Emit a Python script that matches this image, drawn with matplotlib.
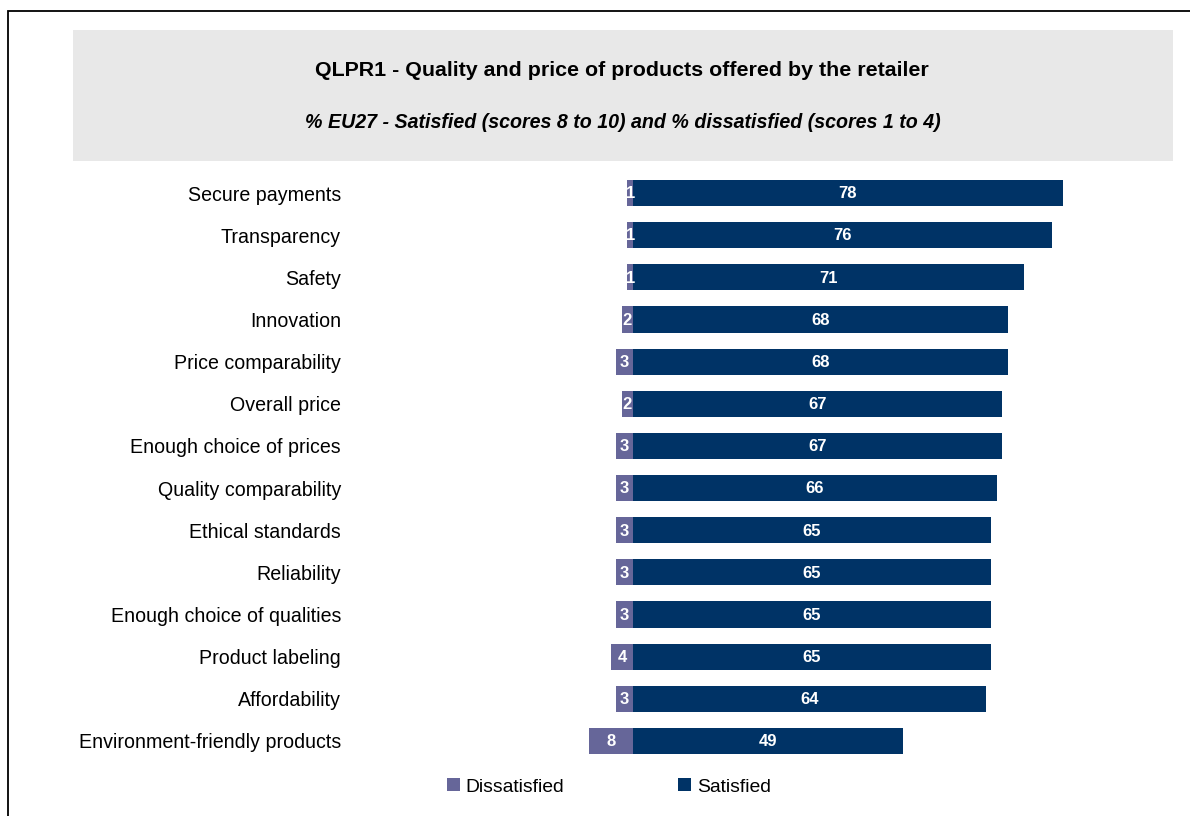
import matplotlib
matplotlib.use("Agg")
import matplotlib.pyplot as plt
from matplotlib.patches import Rectangle, Patch

plt.rcParams['font.family'] = ['Liberation Sans', 'DejaVu Sans']

categories = ["Secure payments", "Transparency", "Safety", "Innovation",
              "Price comparability", "Overall price", "Enough choice of prices",
              "Quality comparability", "Ethical standards", "Reliability",
              "Enough choice of qualities", "Product labeling", "Affordability",
              "Environment-friendly products"]
dissatisfied = [1, 1, 1, 2, 3, 2, 3, 3, 3, 3, 3, 4, 3, 8]
satisfied = [78, 76, 71, 68, 68, 67, 67, 66, 65, 65, 65, 65, 64, 49]

title = "QLPR1 - Quality and price of products offered by the retailer"
subtitle = "% EU27 - Satisfied (scores 8 to 10) and % dissatisfied (scores 1 to 4)"

C_SAT = "#003366"
C_DIS = "#666699"

W, H = 1190, 816
fig = plt.figure(figsize=(W / 100, H / 100), dpi=100)

# outer frame
fig.patches.append(Rectangle((8 / W, -0.1), 1.2, 1 - 11 / H + 0.1, transform=fig.transFigure,
                             fill=False, edgecolor="black", linewidth=1.3, clip_on=False))
# grey title box
fig.patches.append(Rectangle((73 / W, 1 - 161 / H), (1173 - 73) / W, (161 - 30) / H,
                             transform=fig.transFigure, facecolor="#e8e8e8",
                             edgecolor="none"))
fig.text(622 / W, 1 - 71 / H, title, ha="center", va="center", fontsize=15.4,
         fontweight="bold")
fig.text(623 / W, 1 - 123 / H, subtitle, ha="center", va="center", fontsize=14.1,
         fontweight="bold", style="italic")

# axes geometry
px_per = 5.51
x0 = 633
xmin, xmax = -12, 88
left = x0 + xmin * px_per
right = x0 + xmax * px_per
row0, step = 193, 42.15
n = len(categories)
top_px = row0 - step / 2
bot_px = row0 + (n - 1) * step + step / 2
ax = fig.add_axes([left / W, 1 - bot_px / H, (right - left) / W, (bot_px - top_px) / H])
ax.set_xlim(xmin, xmax)
ax.set_ylim(n - 0.5, -0.5)

ys = list(range(n))
neg = [-d for d in dissatisfied]
ax.barh(ys, neg, height=0.62, color=C_DIS, label="Dissatisfied")
ax.barh(ys, satisfied, height=0.62, color=C_SAT, label="Satisfied")

for y, d, s in zip(ys, dissatisfied, satisfied):
    ax.text(-d / 2, y + 0.02, str(d), ha="center", va="center", color="white",
            fontsize=12, fontweight="bold")
    ax.text(s / 2, y + 0.02, str(s), ha="center", va="center", color="white",
            fontsize=12, fontweight="bold")

ax.set_yticks(ys)
ax.set_yticklabels(categories, fontsize=14.1)
ax.tick_params(axis="y", length=0, pad=(left - 341) * 0.72)
ax.set_xticks([])
for sp in ax.spines.values():
    sp.set_visible(False)
ax.patch.set_alpha(0)

handles = [Patch(facecolor=C_DIS, label="Dissatisfied"),
           Patch(facecolor=C_SAT, label="Satisfied")]
fig.legend(handles=handles, loc="center", bbox_to_anchor=(609 / W, 1 - 787 / H),
           ncol=2, frameon=False, fontsize=13.9, handlelength=0.64, handleheight=0.64,
           handletextpad=0.32, columnspacing=5.9)

fig.savefig("out.png", dpi=100)
